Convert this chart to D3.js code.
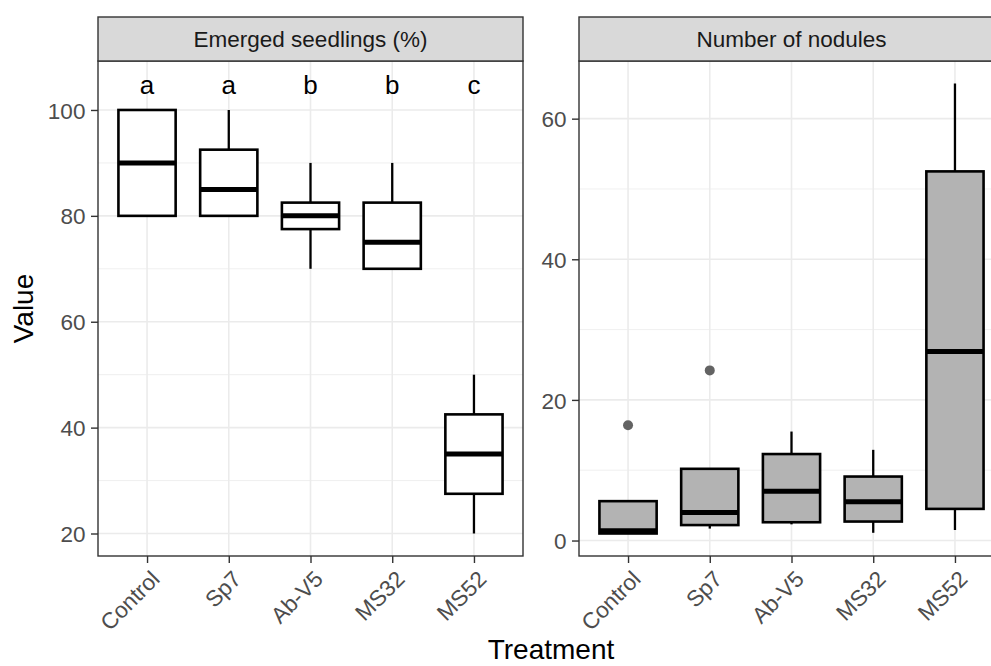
<!DOCTYPE html>
<html>
<head>
<meta charset="utf-8">
<script src="https://cdn.jsdelivr.net/npm/d3@7"></script>
<style>
  html, body { margin: 0; padding: 0; background: #fff; }
  svg { display: block; }
  text { font-family: "Liberation Sans", Arial, Helvetica, sans-serif; }
</style>
</head>
<body>
<svg id="chart" width="991" height="666"></svg>
<script>
// ---------------- data ----------------
const categories = ["Control", "Sp7", "Ab-V5", "MS32", "MS52"];

// Emerged seedlings (%): whisker low, Q1, median, Q3, whisker high
const seedlingsLow    = [80, 80, 70, 70, 20];
const seedlingsQ1     = [80, 80, 77.5, 70, 27.5];
const seedlingsMedian = [90, 85, 80, 75, 35];
const seedlingsQ3     = [100, 92.5, 82.5, 82.5, 42.5];
const seedlingsHigh   = [100, 100, 90, 90, 50];
const seedlingsLetters = ["a", "a", "b", "b", "c"];
const letterValue = 105;

// Number of nodules
const nodulesLow    = [1.0, 1.7, 2.3, 1.1, 1.5];
const nodulesQ1     = [1.0, 2.2, 2.6, 2.7, 4.5];
const nodulesMedian = [1.4, 4.0, 7.0, 5.5, 26.9];
const nodulesQ3     = [5.6, 10.2, 12.3, 9.1, 52.5];
const nodulesHigh   = [5.6, 10.2, 15.5, 12.9, 65];
const nodulesOutliers = [[16.4], [24.2], [], [], []];

const seedlingsTicks = [20, 40, 60, 80, 100];
const seedlingsMinor = [30, 50, 70, 90];
const nodulesTicks = [0, 20, 40, 60];
const nodulesMinor = [10, 30, 50];

const panelTitles = ["Emerged seedlings (%)", "Number of nodules"];
const xTitle = "Treatment";
const yTitle = "Value";

// ---------------- layout ----------------
const svg = d3.select("#chart");
const panelTop = 61, panelBottom = 556, stripTop = 17;
const panelW = 425;
const panelLefts = [98, 579];
const FONT_TICK = 22.5, FONT_TITLE = 28, FONT_LETTER = 26;
const GRID = "#ebebeb", DARK = "#333333";

function expand(lo, hi) { const r = hi - lo; return [lo - 0.05 * r, hi + 0.05 * r]; }

const panels = [
  {
    title: panelTitles[0],
    low: seedlingsLow, q1: seedlingsQ1, med: seedlingsMedian, q3: seedlingsQ3, high: seedlingsHigh,
    outliers: categories.map(() => []),
    letters: seedlingsLetters,
    domain: expand(d3.min(seedlingsLow), Math.max(d3.max(seedlingsHigh), letterValue)),
    ticks: seedlingsTicks, minor: seedlingsMinor, fill: "#ffffff"
  },
  {
    title: panelTitles[1],
    low: nodulesLow, q1: nodulesQ1, med: nodulesMedian, q3: nodulesQ3, high: nodulesHigh,
    outliers: nodulesOutliers,
    letters: null,
    domain: expand(d3.min(nodulesLow), d3.max(nodulesHigh.concat(nodulesOutliers.flat()))),
    ticks: nodulesTicks, minor: nodulesMinor, fill: "#b3b3b3"
  }
];

panels.forEach((p, pi) => {
  const left = panelLefts[pi], right = left + panelW;
  const x = d3.scalePoint().domain(categories).range([left, right]).padding(0.6);
  const y = d3.scaleLinear().domain(p.domain).range([panelBottom, panelTop]);
  const boxW = x.step() * 0.7;
  const g = svg.append("g");

  g.append("rect").attr("x", left).attr("y", panelTop).attr("width", panelW)
    .attr("height", panelBottom - panelTop).attr("fill", "#fff");

  g.selectAll(".minor").data(p.minor).join("line")
    .attr("x1", left).attr("x2", right)
    .attr("y1", d => y(d)).attr("y2", d => y(d))
    .attr("stroke", GRID).attr("stroke-width", 0.8);
  g.selectAll(".majorY").data(p.ticks).join("line")
    .attr("x1", left).attr("x2", right)
    .attr("y1", d => y(d)).attr("y2", d => y(d))
    .attr("stroke", GRID).attr("stroke-width", 1.6);
  g.selectAll(".majorX").data(categories).join("line")
    .attr("x1", d => x(d)).attr("x2", d => x(d))
    .attr("y1", panelTop).attr("y2", panelBottom)
    .attr("stroke", GRID).attr("stroke-width", 1.6);

  categories.forEach((c, i) => {
    const cx = x(c);
    if (p.high[i] > p.q3[i]) {
      g.append("line").attr("x1", cx).attr("x2", cx)
        .attr("y1", y(p.q3[i])).attr("y2", y(p.high[i]))
        .attr("stroke", "#000").attr("stroke-width", 2.3);
    }
    if (p.low[i] < p.q1[i]) {
      g.append("line").attr("x1", cx).attr("x2", cx)
        .attr("y1", y(p.q1[i])).attr("y2", y(p.low[i]))
        .attr("stroke", "#000").attr("stroke-width", 2.3);
    }
    g.append("rect")
      .attr("x", cx - boxW / 2).attr("width", boxW)
      .attr("y", y(p.q3[i])).attr("height", y(p.q1[i]) - y(p.q3[i]))
      .attr("fill", p.fill).attr("stroke", "#000").attr("stroke-width", 2.6);
    g.append("line")
      .attr("x1", cx - boxW / 2).attr("x2", cx + boxW / 2)
      .attr("y1", y(p.med[i])).attr("y2", y(p.med[i]))
      .attr("stroke", "#000").attr("stroke-width", 5);
    p.outliers[i].forEach(v => {
      g.append("circle").attr("cx", cx).attr("cy", y(v)).attr("r", 5)
        .attr("fill", "#636363");
    });
    if (p.letters) {
      g.append("text").attr("x", cx).attr("y", y(letterValue) + FONT_LETTER * 0.41)
        .attr("text-anchor", "middle").attr("font-size", FONT_LETTER)
        .attr("fill", "#000").text(p.letters[i]);
    }
  });

  g.append("rect").attr("x", left).attr("y", panelTop).attr("width", panelW)
    .attr("height", panelBottom - panelTop).attr("fill", "none")
    .attr("stroke", DARK).attr("stroke-width", 1.4);

  g.append("rect").attr("x", left).attr("y", stripTop).attr("width", panelW)
    .attr("height", panelTop - stripTop).attr("fill", "#d9d9d9")
    .attr("stroke", DARK).attr("stroke-width", 1.4);
  g.append("text").attr("x", (left + right) / 2).attr("y", (stripTop + panelTop) / 2 + 8)
    .attr("text-anchor", "middle").attr("font-size", FONT_TICK).attr("fill", "#1a1a1a")
    .text(p.title);

  const yAxis = d3.axisLeft(y).tickValues(p.ticks).tickSize(7).tickPadding(5.6);
  const ya = svg.append("g").attr("transform", `translate(${left},0)`).call(yAxis);
  ya.select(".domain").remove();
  ya.selectAll(".tick line").attr("stroke", DARK).attr("stroke-width", 1.4);
  ya.selectAll(".tick text").attr("font-size", FONT_TICK).attr("fill", "#4d4d4d")
    .attr("font-family", "Liberation Sans, Arial, sans-serif").attr("dy", "0.36em");

  const xAxis = d3.axisBottom(x).tickSize(7).tickPadding(5.6);
  const xa = svg.append("g").attr("transform", `translate(0,${panelBottom})`).call(xAxis);
  xa.select(".domain").remove();
  xa.selectAll(".tick line").attr("stroke", DARK).attr("stroke-width", 1.4);
  xa.selectAll(".tick text")
    .attr("font-size", FONT_TICK).attr("fill", "#4d4d4d")
    .attr("font-family", "Liberation Sans, Arial, sans-serif")
    .attr("text-anchor", "end")
    .attr("y", 0).attr("dy", "0.72em")
    .attr("transform", "translate(2,13) rotate(-45)");
});

svg.append("text").attr("x", (panelLefts[0] + panelLefts[1] + panelW) / 2).attr("y", 659)
  .attr("text-anchor", "middle").attr("font-size", FONT_TITLE).attr("fill", "#000").text(xTitle);
svg.append("text").attr("transform", `translate(33,${(panelTop + panelBottom) / 2}) rotate(-90)`)
  .attr("text-anchor", "middle").attr("font-size", FONT_TITLE).attr("fill", "#000").text(yTitle);
</script>
</body>
</html>
